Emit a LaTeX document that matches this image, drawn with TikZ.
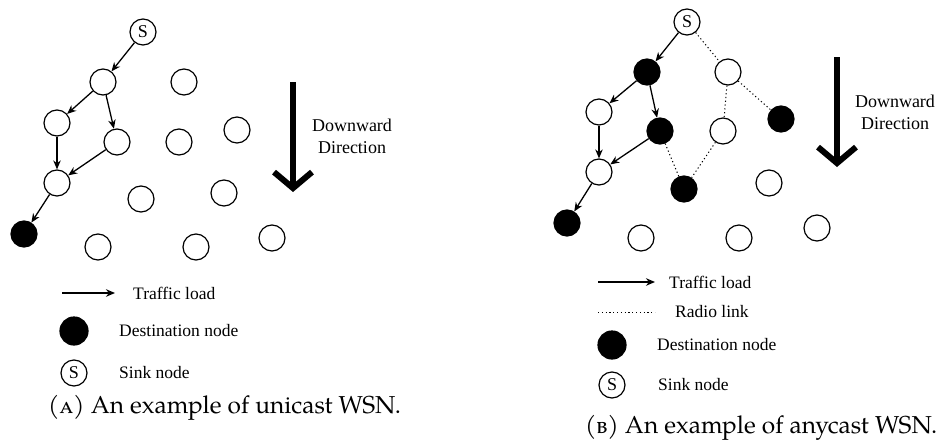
\documentclass[tikz,border=0pt]{standalone}
\usepackage{fontspec}
\setmainfont{Liberation Serif}
\newfontfamily\capfont[Extension=.otf]{texgyrepagella-regular}
\usetikzlibrary{positioning, arrows.meta}

\begin{document}
\begin{tikzpicture}[
    x=1pt, y=-1pt,
    wnode/.style={circle, draw, line width=1.2pt, minimum size=26pt, inner sep=0pt, font=\fontsize{18}{20}\selectfont},
    bnode/.style={wnode, fill=black},
    traffic/.style={-{Stealth[length=9pt, width=7.5pt]}, line width=1.3pt},
    radio/.style={line width=1pt, dash pattern=on 1.2pt off 2.6pt},
    bigarrow/.style={line width=6pt, -{Straight Barb[length=16pt, width=38pt]}},
    label/.style={font=\fontsize{17.5}{20}\selectfont, anchor=west, inner sep=0pt},
    dirtext/.style={font=\fontsize{18}{22}\selectfont, align=center, inner sep=0pt},
    caption/.style={font=\capfont\fontsize{24.5}{28}\selectfont, anchor=base west, inner sep=0pt}
]
\useasboundingbox (0,0) rectangle (940,447);

% (A) unicast
\node[wnode] (sinkU) at (143,32) {S};
\node[wnode] (u1) at (103,82) {};
\node[wnode] (u2) at (184,82) {};
\node[wnode] (u3) at (57,123) {};
\node[wnode] (u4) at (117,142) {};
\node[wnode] (u5) at (179,142) {};
\node[wnode] (u6) at (237,130) {};
\node[wnode] (u7) at (57,183) {};
\node[wnode] (u8) at (141,199) {};
\node[wnode] (u9) at (224,193) {};
\node[bnode] (destU) at (24,234) {};
\node[wnode] (u10) at (98,247) {};
\node[wnode] (u11) at (196,247) {};
\node[wnode] (u12) at (272,238) {};

\draw[traffic] (sinkU) -- (u1);
\draw[traffic] (u1) -- (u3);
\draw[traffic] (u1) -- (u4);
\draw[traffic] (u3) -- (u7);
\draw[traffic] (u4) -- (u7);
\draw[traffic] (u7) -- (destU);

\coordinate (dirTopU) at (293,82);
\coordinate (dirEndU) at (293,192);
\draw[bigarrow] (dirTopU) -- (dirEndU);
\node[dirtext] (dirU) at (352,136) {Downward\\Direction};

% legend (A)
\coordinate (trafStartU) at (62,293);
\coordinate (trafEndU) at (115,293);
\draw[traffic] (trafStartU) -- (trafEndU);
\node[label] (trafU) at (133,293) {Traffic load};
\node[bnode, minimum size=28pt] (keyDestU) at (74,331) {};
\node[label] (destTextU) at (119,331) {Destination node};
\node[wnode] (keySinkU) at (74,373) {S};
\node[label] (sinkTextU) at (119,373) {Sink node};

\node[caption] (capU) at (48,413) {(\textsc{a}) An example of unicast WSN.};

% (B) anycast
\node[wnode] (sinkA) at (687,22) {S};
\node[bnode] (a1) at (647,72) {};
\node[wnode] (a2) at (728,72) {};
\node[wnode] (a3) at (599,112) {};
\node[bnode] (a4) at (660,131) {};
\node[wnode] (a5) at (723,131) {};
\node[bnode] (a6) at (781,119) {};
\node[wnode] (a7) at (599,172) {};
\node[bnode] (a8) at (684,189) {};
\node[wnode] (a9) at (769,183) {};
\node[bnode] (a10) at (567,223) {};
\node[wnode] (a11) at (641,238) {};
\node[wnode] (a12) at (739,238) {};
\node[wnode] (a13) at (817,228) {};

\draw[traffic] (sinkA) -- (a1);
\draw[traffic] (a1) -- (a3);
\draw[traffic] (a1) -- (a4);
\draw[traffic] (a3) -- (a7);
\draw[traffic] (a4) -- (a7);
\draw[traffic] (a7) -- (a10);

\draw[radio] (sinkA) -- (a2);
\draw[radio] (a2) -- (a6);
\draw[radio] (a2) -- (a5);
\draw[radio] (a5) -- (a8);
\draw[radio] (a4) -- (a8);

\coordinate (dirTopA) at (837,57);
\coordinate (dirEndA) at (837,167);
\draw[bigarrow] (dirTopA) -- (dirEndA);
\node[dirtext] (dirA) at (895,112) {Downward\\Direction};

% legend (B)
\coordinate (trafStartA) at (598,282);
\coordinate (trafEndA) at (655,282);
\draw[traffic] (trafStartA) -- (trafEndA);
\node[label] (trafA) at (669,282) {Traffic load};
\coordinate (radioStartA) at (598,312);
\coordinate (radioEndA) at (655,312);
\draw[radio] (radioStartA) -- (radioEndA);
\node[label] (radioA) at (675,312) {Radio link};
\node[bnode, minimum size=28pt] (keyDestA) at (612,345) {};
\node[label] (destTextA) at (657,345) {Destination node};
\node[wnode] (keySinkA) at (612,385) {S};
\node[label] (sinkTextA) at (658,385) {Sink node};

\node[caption] (capA) at (585,433) {(\textsc{b}) An example of anycast WSN.};

\end{tikzpicture}
\end{document}
